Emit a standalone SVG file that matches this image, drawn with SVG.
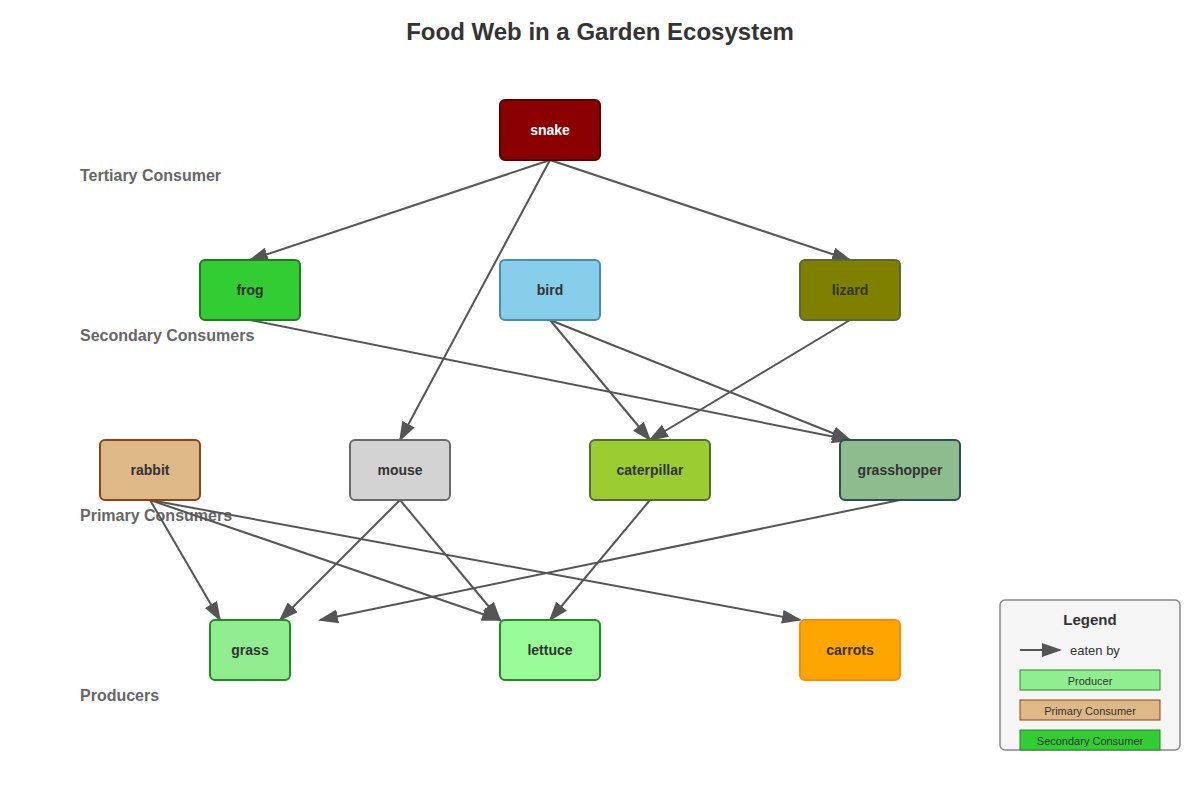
<svg xmlns="http://www.w3.org/2000/svg" width="1200" height="800" viewBox="0 0 1200 800">
<defs>
<style>
.title{font-family:"Liberation Sans",Arial,sans-serif;font-size:24px;font-weight:bold;fill:#333;text-anchor:middle}
.lvl{font-family:"Liberation Sans",Arial,sans-serif;font-size:16px;font-weight:bold;fill:#666}
.nt{font-family:"Liberation Sans",Arial,sans-serif;font-size:14px;font-weight:bold;fill:#333;text-anchor:middle;dominant-baseline:central}
.edge{stroke:#555;stroke-width:2;fill:none;marker-end:url(#arr)}
.node rect{stroke-width:2}
.lg{font-family:"Liberation Sans",Arial,sans-serif;fill:#333}
</style>
<marker id="arr" markerWidth="10" markerHeight="7" refX="9" refY="3.5" orient="auto">
<path d="M0,0 L10,3.5 L0,7 z" fill="#555"/>
</marker>
</defs>
<rect width="1200" height="800" fill="#fff"/>
<text class="title" x="600" y="40">Food Web in a Garden Ecosystem</text>
<g id="levels">
<text class="lvl" x="80" y="181">Tertiary Consumer</text>
<text class="lvl" x="80" y="341">Secondary Consumers</text>
<text class="lvl" x="80" y="521">Primary Consumers</text>
<text class="lvl" x="80" y="701">Producers</text>
</g>
<g id="connectors">
<line class="edge" x1="550" y1="160" x2="250" y2="260"/>
<line class="edge" x1="550" y1="160" x2="400" y2="440"/>
<line class="edge" x1="550" y1="160" x2="850" y2="260"/>
<line class="edge" x1="250" y1="320" x2="850" y2="440"/>
<line class="edge" x1="550" y1="320" x2="650" y2="440"/>
<line class="edge" x1="550" y1="320" x2="850" y2="440"/>
<line class="edge" x1="850" y1="320" x2="650" y2="440"/>
<line class="edge" x1="150" y1="500" x2="220" y2="620"/>
<line class="edge" x1="150" y1="500" x2="500" y2="620"/>
<line class="edge" x1="150" y1="500" x2="800" y2="620"/>
<line class="edge" x1="400" y1="500" x2="280" y2="620"/>
<line class="edge" x1="400" y1="500" x2="500" y2="620"/>
<line class="edge" x1="650" y1="500" x2="550" y2="620"/>
<line class="edge" x1="900" y1="500" x2="320" y2="620"/>
</g>
<g id="snake" class="node"><rect x="500" y="100" width="100" height="60" rx="5" fill="#8B0000" stroke="#5C0000"/><text class="nt" x="550" y="130" style="fill:#fff">snake</text></g>
<g id="frog" class="node"><rect x="200" y="260" width="100" height="60" rx="5" fill="#32CD32" stroke="#1E7B1E"/><text class="nt" x="250" y="290">frog</text></g>
<g id="bird" class="node"><rect x="500" y="260" width="100" height="60" rx="5" fill="#87CEEB" stroke="#4A8BB0"/><text class="nt" x="550" y="290">bird</text></g>
<g id="lizard" class="node"><rect x="800" y="260" width="100" height="60" rx="5" fill="#808000" stroke="#556B2F"/><text class="nt" x="850" y="290">lizard</text></g>
<g id="rabbit" class="node"><rect x="100" y="440" width="100" height="60" rx="5" fill="#DEB887" stroke="#8B4513"/><text class="nt" x="150" y="470">rabbit</text></g>
<g id="mouse" class="node"><rect x="350" y="440" width="100" height="60" rx="5" fill="#D3D3D3" stroke="#696969"/><text class="nt" x="400" y="470">mouse</text></g>
<g id="caterpillar" class="node"><rect x="590" y="440" width="120" height="60" rx="5" fill="#9ACD32" stroke="#556B2F"/><text class="nt" x="650" y="470">caterpillar</text></g>
<g id="grasshopper" class="node"><rect x="840" y="440" width="120" height="60" rx="5" fill="#8FBC8F" stroke="#2F4F4F"/><text class="nt" x="900" y="470">grasshopper</text></g>
<g id="grass" class="node"><rect x="210" y="620" width="80" height="60" rx="5" fill="#90EE90" stroke="#228B22"/><text class="nt" x="250" y="650">grass</text></g>
<g id="lettuce" class="node"><rect x="500" y="620" width="100" height="60" rx="5" fill="#98FB98" stroke="#228B22"/><text class="nt" x="550" y="650">lettuce</text></g>
<g id="carrots" class="node"><rect x="800" y="620" width="100" height="60" rx="5" fill="#FFA500" stroke="#FF8C00"/><text class="nt" x="850" y="650">carrots</text></g>
<g id="legend">
<rect x="1000" y="600" width="180" height="150" rx="5" fill="#f5f5f5" stroke="#888" stroke-width="1.5"/>
<text class="lg" x="1090" y="625" text-anchor="middle" font-size="15" font-weight="bold">Legend</text>
<line x1="1020" y1="650" x2="1060" y2="650" stroke="#555" stroke-width="2" marker-end="url(#arr)"/>
<text class="lg" x="1070" y="655" font-size="13">eaten by</text>
<rect x="1020" y="670" width="140" height="20" fill="#90EE90" stroke="#228B22" stroke-width="1"/>
<text class="lg" x="1090" y="685" text-anchor="middle" font-size="11">Producer</text>
<rect x="1020" y="700" width="140" height="20" fill="#DEB887" stroke="#8B4513" stroke-width="1"/>
<text class="lg" x="1090" y="715" text-anchor="middle" font-size="11">Primary Consumer</text>
<rect x="1020" y="730" width="140" height="20" fill="#32CD32" stroke="#228B22" stroke-width="1"/>
<text class="lg" x="1090" y="745" text-anchor="middle" font-size="11">Secondary Consumer</text>
</g>
</svg>
